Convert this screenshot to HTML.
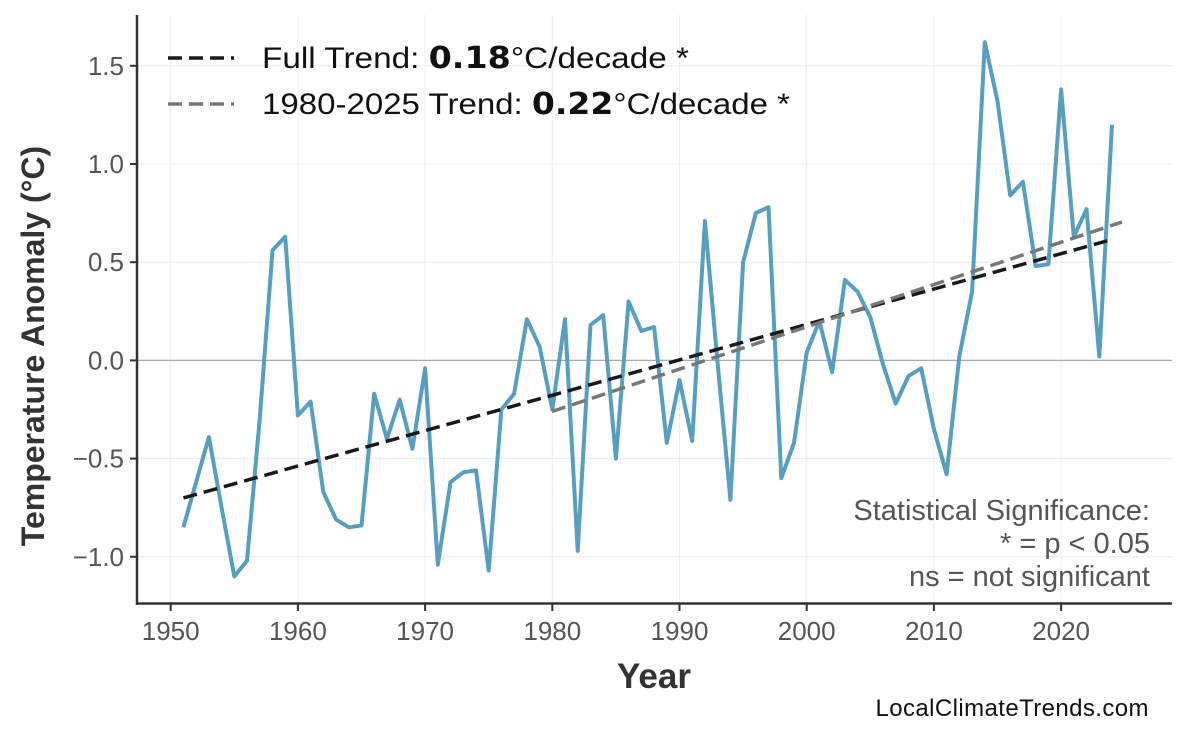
<!DOCTYPE html>
<html><head><meta charset="utf-8"><style>body{margin:0;background:#fff}svg{display:block}text{font-family:"Liberation Sans",Arial,sans-serif}</style></head><body>
<svg id="s" width="1186" height="737" viewBox="0 0 1186 737" xmlns="http://www.w3.org/2000/svg">
<g id="grid" stroke="#ececec" stroke-width="1"></g>
<line x1="137" y1="360.4" x2="1172" y2="360.4" stroke="#aaa" stroke-width="1.3"/>
<polyline id="pl" fill="none" stroke="#559fc0" stroke-width="4" stroke-linejoin="round"/>
<line x1="183.4" y1="497.9" x2="1108" y2="240.6" stroke="#1a1a1a" stroke-width="3.5" stroke-dasharray="14,7"/>
<line x1="552" y1="411.5" x2="1122" y2="222" stroke="#777" stroke-width="3.5" stroke-dasharray="14,7"/>
<line x1="137" y1="15" x2="137" y2="605" stroke="#333" stroke-width="2.5"/>
<line x1="136" y1="603.5" x2="1172" y2="603.5" stroke="#333" stroke-width="2.5"/>
<g id="ticks" fill="#555" font-size="26"></g>
<text transform="translate(44,346) rotate(-90)" text-anchor="middle" font-size="32" font-weight="bold" fill="#333">Temperature Anomaly (°C)</text>
<text x="654" y="688" text-anchor="middle" font-size="35" font-weight="bold" fill="#333">Year</text>
<text x="1012" y="716" text-anchor="middle" font-size="24" fill="#111" textLength="273">LocalClimateTrends.com</text>
<g font-size="29" fill="#555" text-anchor="end"><text x="1150" y="520">Statistical Significance:</text><text x="1150" y="553">* = p &lt; 0.05</text><text x="1150" y="586">ns = not significant</text></g>
<line x1="168" y1="58" x2="234" y2="58" stroke="#1a1a1a" stroke-width="3.5" stroke-dasharray="14,7"/>
<line x1="168" y1="104" x2="234" y2="104" stroke="#777" stroke-width="3.5" stroke-dasharray="14,7"/>
<g font-size="30" fill="#111"><text x="262" y="68" textLength="427" lengthAdjust="spacingAndGlyphs">Full Trend: <tspan font-weight="bold" font-family="DejaVu Sans">0.18</tspan>°C/decade *</text><text x="262" y="114" textLength="528" lengthAdjust="spacingAndGlyphs">1980-2025 Trend: <tspan font-weight="bold" font-family="DejaVu Sans">0.22</tspan>°C/decade *</text></g>
</svg>
<script>
var d=[-0.85,-0.62,-0.39,-0.75,-1.10,-1.02,-0.3,0.56,0.63,-0.28,-0.21,-0.67,-0.81,-0.85,-0.84,-0.17,-0.40,-0.20,-0.45,-0.04,-1.04,-0.62,-0.57,-0.56,-1.07,-0.25,-0.17,0.21,0.07,-0.25,0.21,-0.97,0.18,0.23,-0.50,0.30,0.15,0.17,-0.42,-0.10,-0.41,0.71,-0.02,-0.71,0.50,0.75,0.78,-0.60,-0.42,0.04,0.20,-0.06,0.41,0.35,0.22,-0.02,-0.22,-0.08,-0.04,-0.35,-0.58,0.02,0.35,1.62,1.32,0.84,0.91,0.48,0.49,1.38,0.63,0.77,0.02,1.20];
function X(y){return 170.7+(y-1950)*12.72}function Y(v){return 360.4-v*196.4}
document.getElementById('pl').setAttribute('points',d.map((v,i)=>X(1951+i).toFixed(1)+','+Y(v).toFixed(1)).join(' '));
var g='',t='';
for(var v=-1;v<=1.5;v+=0.5){var y=Y(v);g+='<line x1="137" x2="1172" y1="'+y+'" y2="'+y+'"/>';t+='<line x1="130" x2="137" y1="'+y+'" y2="'+y+'" stroke="#333" stroke-width="2"/><text x="124" y="'+(y+9)+'" text-anchor="end">'+(v<0?'\u2212':'')+Math.abs(v).toFixed(1)+'</text>';}
for(var yr=1950;yr<=2020;yr+=10){var x=X(yr);g+='<line y1="15" y2="604" x1="'+x+'" x2="'+x+'"/>';t+='<line y1="604" y2="611" x1="'+x+'" x2="'+x+'" stroke="#333" stroke-width="2"/><text x="'+x+'" y="640" text-anchor="middle">'+yr+'</text>';}
document.getElementById('grid').innerHTML=g;document.getElementById('ticks').innerHTML=t;
</script>
</body></html>
